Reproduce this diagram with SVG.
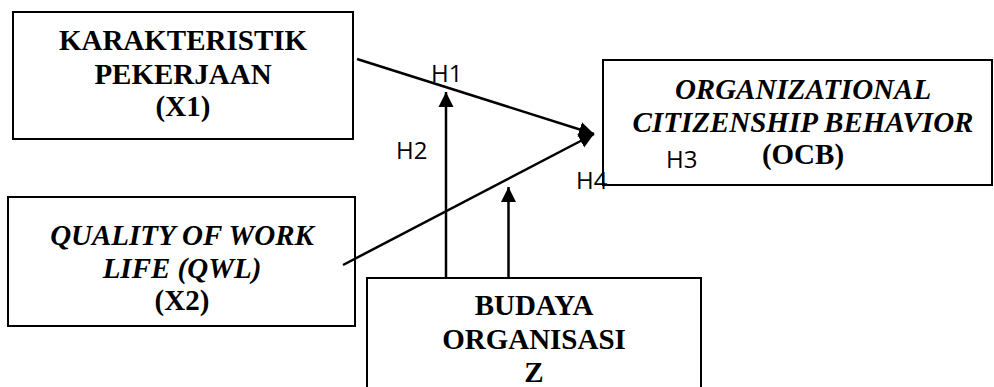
<svg xmlns="http://www.w3.org/2000/svg" width="994" height="387" viewBox="0 0 994 387">
<style>
.box{fill:#fff;stroke:#000;stroke-width:2}
.t{font-family:"Liberation Serif","Times New Roman",serif;font-weight:bold;font-size:29px;fill:#000;text-anchor:middle}
.i{font-style:italic}
.h{font-family:"Open Sans","Liberation Sans",Arial,sans-serif;font-size:24px;fill:#000}
.c{stroke:#000;stroke-width:2.5;fill:none}
</style>
<defs>
<marker id="ah" markerUnits="userSpaceOnUse" markerWidth="16" markerHeight="16" viewBox="0 0 16 16" refX="15" refY="8" orient="auto">
<path d="M0,0.5 L15,8 L0,15.5 Z" fill="#000"/>
</marker>
</defs>
<rect width="994" height="387" fill="#fff"/>
<g id="x1">
<rect class="box" x="13" y="12" width="340" height="127"/>
<text class="t" x="183" y="50">KARAKTERISTIK</text>
<text class="t" x="183" y="83.5">PEKERJAAN</text>
<text class="t" x="183" y="116">(X1)</text>
</g>
<g id="x2">
<rect class="box" x="8" y="197" width="347" height="129"/>
<text class="t i" x="182" y="245">QUALITY OF WORK</text>
<text class="t i" x="182" y="278">LIFE (QWL)</text>
<text class="t" x="182" y="310">(X2)</text>
</g>
<g id="ocb">
<rect class="box" x="603" y="60" width="389" height="125"/>
<text class="t i" x="803" y="99">ORGANIZATIONAL</text>
<text class="t i" x="803" y="131.5">CITIZENSHIP BEHAVIOR</text>
<text class="t" x="803" y="164">(OCB)</text>
</g>
<g id="z">
<rect class="box" x="367" y="278" width="334" height="120"/>
<text class="t" x="534" y="315">BUDAYA</text>
<text class="t" x="534" y="349">ORGANISASI</text>
<text class="t" x="534" y="382">Z</text>
</g>
<g id="connectors">
<line class="c" x1="357" y1="59" x2="594" y2="134" marker-end="url(#ah)"/>
<line class="c" x1="343" y1="265" x2="594" y2="134" marker-end="url(#ah)"/>
<line class="c" x1="446" y1="277" x2="446" y2="92" marker-end="url(#ah)"/>
<line class="c" x1="508.5" y1="277" x2="508.5" y2="187" marker-end="url(#ah)"/>
</g>
<g id="labels">
<text class="h" x="431" y="82">H1</text>
<text class="h" x="396" y="159">H2</text>
<text class="h" x="666" y="168">H3</text>
<text class="h" x="576" y="189">H4</text>
</g>
</svg>
